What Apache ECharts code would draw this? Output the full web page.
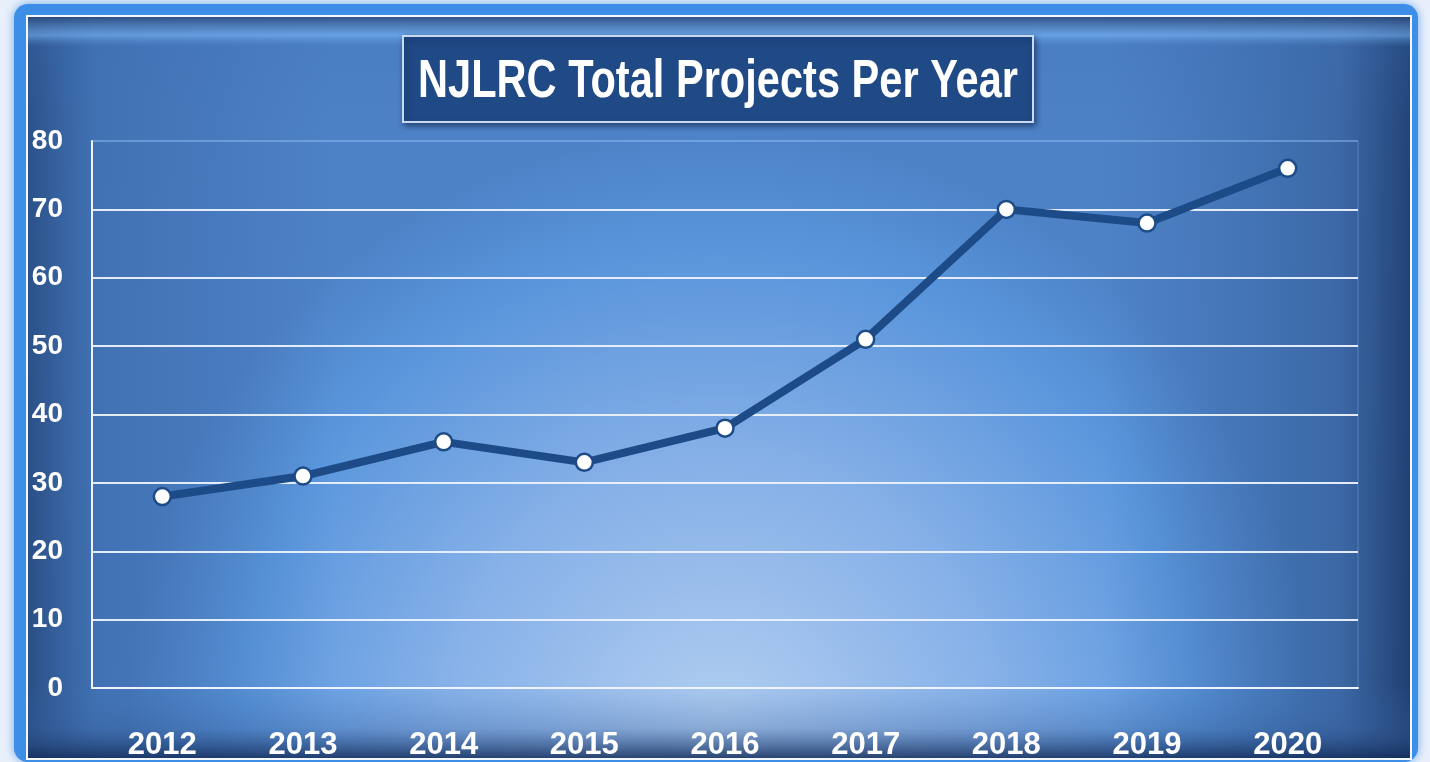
<!DOCTYPE html>
<html>
<head>
<meta charset="utf-8">
<script src="https://cdn.jsdelivr.net/npm/echarts@6/dist/echarts.min.js"></script>
<style>
html,body{margin:0;padding:0;background:#e9f0fb;}
#c{width:1430px;height:762px;}
</style>
</head>
<body>
<div id="c"></div>
<script>
const titleText = 'NJLRC Total Projects Per Year';
const years = ['2012','2013','2014','2015','2016','2017','2018','2019','2020'];
const projects = [28, 31, 36, 33, 38, 51, 70, 68, 76];
const yMin = 0, yMax = 80, yStep = 10;

const FONT = '"Liberation Sans", Arial, sans-serif';
const chart = echarts.init(document.getElementById('c'));

const lightLines = [];
for (let v = yMin; v <= yMax; v += yStep) {
  lightLines.push(v === yMax ? 'rgba(150,195,245,0.35)' : 'rgba(235,242,252,0.95)');
}

chart.setOption({
  backgroundColor: '#e9f0fb',
  graphic: [
    { type: 'rect', z: -10, silent: true,
      shape: { x: 14, y: 4, width: 1404, height: 758, r: 14 },
      style: { fill: '#3c8ee6', shadowBlur: 10, shadowColor: 'rgba(60,140,230,0.7)' } },
    { type: 'rect', z: -9, silent: true,
      shape: { x: 26, y: 15, width: 1386, height: 745 },
      style: { fill: '#f4f8fd' } },
    { type: 'rect', z: -8, silent: true,
      shape: { x: 28, y: 17, width: 1382, height: 741 },
      style: { fill: { type: 'radial', x: 0.5, y: 0.95, r: 0.8,
        colorStops: [
          { offset: 0, color: '#b0cdf0' },
          { offset: 0.45, color: '#88b2e9' },
          { offset: 0.8, color: '#5c98de' },
          { offset: 1, color: '#4f84c8' }
        ] } } },
    { type: 'rect', z: -7, silent: true,
      shape: { x: 28, y: 17, width: 1382, height: 741 },
      style: { fill: { type: 'linear', x: 0, y: 0, x2: 1, y2: 0,
        colorStops: [
          { offset: 0, color: 'rgba(30,60,110,0.75)' },
          { offset: 0.05, color: 'rgba(40,80,140,0.35)' },
          { offset: 0.22, color: 'rgba(40,80,140,0.0)' },
          { offset: 0.78, color: 'rgba(40,80,140,0.0)' },
          { offset: 0.95, color: 'rgba(30,60,110,0.4)' },
          { offset: 1, color: 'rgba(20,45,90,0.8)' }
        ] } } },
    { type: 'rect', z: -6, silent: true,
      shape: { x: 28, y: 17, width: 1382, height: 741 },
      style: { fill: { type: 'linear', x: 0, y: 0, x2: 0, y2: 1,
        colorStops: [
          { offset: 0, color: 'rgba(40,70,120,0.8)' },
          { offset: 0.025, color: 'rgba(120,180,245,0.6)' },
          { offset: 0.04, color: 'rgba(60,110,180,0.25)' },
          { offset: 0.15, color: 'rgba(60,110,180,0.1)' },
          { offset: 0.9, color: 'rgba(60,110,180,0.0)' },
          { offset: 0.96, color: 'rgba(50,90,150,0.3)' },
          { offset: 1, color: 'rgba(20,45,90,0.85)' }
        ] } } },
    { type: 'rect', z: 5, silent: true,
      shape: { x: 403, y: 36, width: 630, height: 86 },
      style: { fill: '#1f4a86', stroke: '#c9d9ef', lineWidth: 2,
        shadowBlur: 6, shadowOffsetX: 2, shadowOffsetY: 3, shadowColor: 'rgba(10,30,70,0.6)' } },
    { type: 'text', z: 10, silent: true,
      x: 718, y: 82, scaleX: 0.77, scaleY: 1,
      style: { text: titleText, fill: '#ffffff', font: 'bold 54px "Liberation Sans", Arial, sans-serif',
        align: 'center', verticalAlign: 'middle' } }
  ],
  grid: { left: 92, right: 72, top: 141, bottom: 74, show: true, borderColor: 'rgba(150,195,245,0.35)', borderWidth: 1 },
  xAxis: {
    type: 'category',
    data: years,
    boundaryGap: true,
    axisLine: { show: true, lineStyle: { color: '#eef4fc', width: 2 } },
    axisTick: { show: false },
    axisLabel: { color: '#ffffff', fontFamily: FONT, fontWeight: 'bold', fontSize: 31, margin: 42 },
    splitLine: { show: false }
  },
  yAxis: {
    type: 'value',
    min: yMin, max: yMax, interval: yStep,
    axisLine: { show: true, lineStyle: { color: '#eef4fc', width: 2 } },
    axisTick: { show: false },
    axisLabel: { color: '#ffffff', fontFamily: FONT, fontWeight: 'bold', fontSize: 28, margin: 29 },
    splitLine: { show: true, lineStyle: { color: lightLines, width: 2 } }
  },
  series: [{
    type: 'line',
    data: projects,
    symbol: 'circle',
    symbolSize: 17,
    lineStyle: { color: '#1d4b88', width: 8 },
    itemStyle: { color: '#ffffff', borderColor: '#1d4b88', borderWidth: 2.5 },
    z: 3,
    animation: false
  }],
  animation: false
});
</script>
</body>
</html>
